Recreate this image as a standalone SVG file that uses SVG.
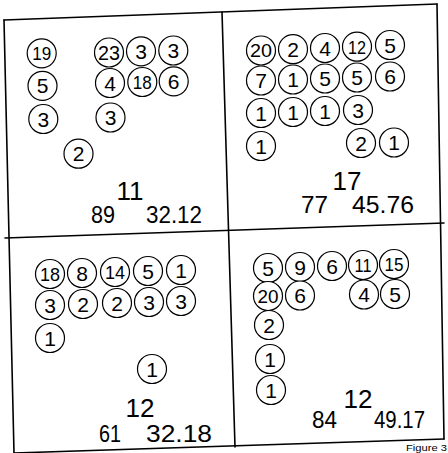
<svg xmlns="http://www.w3.org/2000/svg" width="448" height="453" viewBox="0 0 448 453">
<style>
.frame line{stroke:#000;stroke-width:1.6;stroke-linecap:round}
.c circle{fill:#fff;stroke:#000;stroke-width:1.2}
.c text{font-family:"Liberation Sans",Arial,sans-serif;font-size:21px;text-anchor:middle;fill:#000}
.c text.d{font-size:19px}
.lbl{font-family:"Liberation Sans",Arial,sans-serif;font-size:24px;fill:#000}
.big{font-family:"Liberation Sans",Arial,sans-serif;font-size:26px;text-anchor:middle;fill:#000}
.fig{font-family:"Liberation Sans",Arial,sans-serif;font-size:9px;fill:#000}
</style>
<rect width="448" height="453" fill="#fff"/>
<g id="frame" class="frame">
<line x1="4" y1="20" x2="437" y2="4"/>
<line x1="4" y1="20" x2="14" y2="453"/>
<line x1="437" y1="4" x2="444" y2="439"/>
<line x1="14" y1="453" x2="444" y2="439"/>
<line x1="222" y1="12" x2="235" y2="447"/>
<line x1="5" y1="238" x2="444" y2="223"/>
</g>
<g id="connectors"/>
<g id="q1">
<g id="q1-19" class="c"><circle cx="41.7" cy="53.3" r="14.5"/><text class="d" x="41.7" y="60" textLength="19" lengthAdjust="spacingAndGlyphs">19</text></g>
<g id="q1-5" class="c"><circle cx="42.5" cy="85.8" r="14.5"/><text x="42.5" y="93.3">5</text></g>
<g id="q1-3a" class="c"><circle cx="43.3" cy="119" r="14.5"/><text x="43.3" y="126.5">3</text></g>
<g id="q1-23" class="c"><circle cx="109" cy="52.5" r="14.5"/><text x="109" y="60" textLength="22" lengthAdjust="spacingAndGlyphs">23</text></g>
<g id="q1-3b" class="c"><circle cx="141" cy="51.3" r="14.5"/><text x="141" y="58.8">3</text></g>
<g id="q1-3c" class="c"><circle cx="173.3" cy="50.5" r="14.5"/><text x="173.3" y="58">3</text></g>
<g id="q1-4" class="c"><circle cx="110" cy="83" r="14.5"/><text x="110" y="90.5">4</text></g>
<g id="q1-18" class="c"><circle cx="142.3" cy="82" r="14.5"/><text class="d" x="142.3" y="88.8" textLength="19" lengthAdjust="spacingAndGlyphs">18</text></g>
<g id="q1-6" class="c"><circle cx="173.7" cy="81.3" r="14.5"/><text x="173.7" y="88.8">6</text></g>
<g id="q1-3d" class="c"><circle cx="110.5" cy="117.5" r="14.5"/><text x="110.5" y="125">3</text></g>
<g id="q1-2" class="c"><circle cx="78.5" cy="153.7" r="14.5"/><text x="78.5" y="161.2">2</text></g>
<text class="big" x="130" y="200">11</text>
<text class="lbl" x="91" y="223" textLength="24" lengthAdjust="spacingAndGlyphs">89</text>
<text class="lbl" x="146" y="223" textLength="56" lengthAdjust="spacingAndGlyphs">32.12</text>
</g>
<g id="q2">
<g id="q2-20" class="c"><circle cx="261" cy="50.5" r="14.5"/><text class="d" x="261" y="57.3" textLength="22" lengthAdjust="spacingAndGlyphs">20</text></g>
<g id="q2-2" class="c"><circle cx="293" cy="49.2" r="14.5"/><text x="293" y="56.7">2</text></g>
<g id="q2-4" class="c"><circle cx="325" cy="48" r="14.5"/><text x="325" y="55.5">4</text></g>
<g id="q2-12" class="c"><circle cx="357" cy="46.7" r="14.5"/><text class="d" x="357" y="53.5" textLength="18" lengthAdjust="spacingAndGlyphs">12</text></g>
<g id="q2-5a" class="c"><circle cx="390" cy="45" r="14.5"/><text x="390" y="52.5">5</text></g>
<g id="q2-7" class="c"><circle cx="261" cy="80.5" r="14.5"/><text x="261" y="88">7</text></g>
<g id="q2-1a" class="c"><circle cx="293" cy="79.5" r="14.5"/><text x="293" y="87">1</text></g>
<g id="q2-5b" class="c"><circle cx="325" cy="78.5" r="14.5"/><text x="325" y="86">5</text></g>
<g id="q2-5c" class="c"><circle cx="357" cy="77.5" r="14.5"/><text x="357" y="85">5</text></g>
<g id="q2-6" class="c"><circle cx="390" cy="76.5" r="14.5"/><text x="390" y="84">6</text></g>
<g id="q2-1b" class="c"><circle cx="261" cy="113" r="14.5"/><text x="261" y="120.5">1</text></g>
<g id="q2-1c" class="c"><circle cx="293" cy="112" r="14.5"/><text x="293" y="119.5">1</text></g>
<g id="q2-1d" class="c"><circle cx="325" cy="111" r="14.5"/><text x="325" y="118.5">1</text></g>
<g id="q2-3" class="c"><circle cx="358" cy="110" r="14.5"/><text x="358" y="117.5">3</text></g>
<g id="q2-1e" class="c"><circle cx="261" cy="146" r="14.5"/><text x="261" y="153.5">1</text></g>
<g id="q2-2b" class="c"><circle cx="361" cy="143" r="14.5"/><text x="361" y="150.5">2</text></g>
<g id="q2-1f" class="c"><circle cx="394" cy="142.5" r="14.5"/><text x="394" y="150">1</text></g>
<text class="big" x="347" y="190">17</text>
<text class="lbl" x="301" y="213" textLength="27" lengthAdjust="spacingAndGlyphs">77</text>
<text class="lbl" x="352" y="213" textLength="62" lengthAdjust="spacingAndGlyphs">45.76</text>
</g>
<g id="q3">
<g id="q3-18" class="c"><circle cx="50" cy="274" r="14.5"/><text class="d" x="50" y="280.8" textLength="20" lengthAdjust="spacingAndGlyphs">18</text></g>
<g id="q3-8" class="c"><circle cx="82" cy="273" r="14.5"/><text x="82" y="280.5">8</text></g>
<g id="q3-14" class="c"><circle cx="115" cy="272" r="14.5"/><text class="d" x="115" y="278.8" textLength="20" lengthAdjust="spacingAndGlyphs">14</text></g>
<g id="q3-5" class="c"><circle cx="148" cy="271" r="14.5"/><text x="148" y="278.5">5</text></g>
<g id="q3-1a" class="c"><circle cx="181" cy="270" r="14.5"/><text x="181" y="277.5">1</text></g>
<g id="q3-3a" class="c"><circle cx="50" cy="305" r="14.5"/><text x="50" y="312.5">3</text></g>
<g id="q3-2a" class="c"><circle cx="83" cy="304" r="14.5"/><text x="83" y="311.5">2</text></g>
<g id="q3-2b" class="c"><circle cx="117" cy="303" r="14.5"/><text x="117" y="310.5">2</text></g>
<g id="q3-3b" class="c"><circle cx="149" cy="302" r="14.5"/><text x="149" y="309.5">3</text></g>
<g id="q3-3c" class="c"><circle cx="181" cy="301" r="14.5"/><text x="181" y="308.5">3</text></g>
<g id="q3-1b" class="c"><circle cx="50" cy="338" r="14.5"/><text x="50" y="345.5">1</text></g>
<g id="q3-1c" class="c"><circle cx="152" cy="369" r="14.5"/><text x="152" y="376.5">1</text></g>
<text class="big" x="140" y="417">12</text>
<text class="lbl" x="99" y="442" textLength="22" lengthAdjust="spacingAndGlyphs">61</text>
<text class="lbl" x="146" y="442" textLength="66" lengthAdjust="spacingAndGlyphs">32.18</text>
</g>
<g id="q4">
<g id="q4-5a" class="c"><circle cx="268" cy="268" r="14.5"/><text x="268" y="275.5">5</text></g>
<g id="q4-9" class="c"><circle cx="300" cy="267" r="14.5"/><text x="300" y="274.5">9</text></g>
<g id="q4-6a" class="c"><circle cx="332" cy="266" r="14.5"/><text x="332" y="273.5">6</text></g>
<g id="q4-11" class="c"><circle cx="363" cy="265" r="14.5"/><text class="d" x="363" y="271.8" textLength="17" lengthAdjust="spacingAndGlyphs">11</text></g>
<g id="q4-15" class="c"><circle cx="394" cy="264" r="14.5"/><text class="d" x="394" y="270.8" textLength="19" lengthAdjust="spacingAndGlyphs">15</text></g>
<g id="q4-20" class="c"><circle cx="268" cy="296" r="14.5"/><text class="d" x="268" y="302.8" textLength="21" lengthAdjust="spacingAndGlyphs">20</text></g>
<g id="q4-6b" class="c"><circle cx="300" cy="295.5" r="14.5"/><text x="300" y="303">6</text></g>
<g id="q4-4" class="c"><circle cx="364" cy="294.5" r="14.5"/><text x="364" y="302">4</text></g>
<g id="q4-5b" class="c"><circle cx="395" cy="294" r="14.5"/><text x="395" y="301.5">5</text></g>
<g id="q4-2" class="c"><circle cx="269" cy="325" r="14.5"/><text x="269" y="332.5">2</text></g>
<g id="q4-1a" class="c"><circle cx="270" cy="359" r="14.5"/><text x="270" y="366.5">1</text></g>
<g id="q4-1b" class="c"><circle cx="271" cy="390" r="14.5"/><text x="271" y="397.5">1</text></g>
<text class="big" x="358" y="408">12</text>
<text class="lbl" x="312" y="428" textLength="25" lengthAdjust="spacingAndGlyphs">84</text>
<text class="lbl" x="374" y="428" textLength="51" lengthAdjust="spacingAndGlyphs">49.17</text>
</g>
<text class="fig" x="406" y="451" textLength="41" lengthAdjust="spacingAndGlyphs">Figure 3</text>
</svg>
